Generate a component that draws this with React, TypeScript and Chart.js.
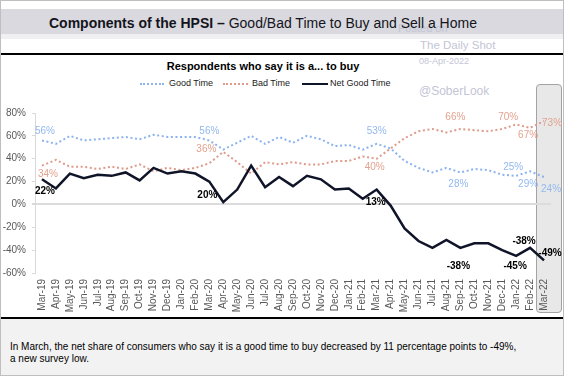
import { useEffect, useRef } from 'react';
import { Chart, registerables } from 'chart.js';

Chart.register(...registerables);

const months = [
  'Mar-19', 'Apr-19', 'May-19', 'Jun-19', 'Jul-19', 'Aug-19', 'Sep-19', 'Oct-19', 'Nov-19', 'Dec-19',
  'Jan-20', 'Feb-20', 'Mar-20', 'Apr-20', 'May-20', 'Jun-20', 'Jul-20', 'Aug-20', 'Sep-20', 'Oct-20',
  'Nov-20', 'Dec-20', 'Jan-21', 'Feb-21', 'Mar-21', 'Apr-21', 'May-21', 'Jun-21', 'Jul-21', 'Aug-21',
  'Sep-21', 'Oct-21', 'Nov-21', 'Dec-21', 'Jan-22', 'Feb-22', 'Mar-22',
];

const goodTime = [
  56, 53, 60, 56, 57, 58, 59, 57, 61, 59, 59, 59, 56,
  48, 54, 60, 53, 59, 54, 60, 57, 51, 52, 48, 53,
  49, 38, 32, 28, 32, 28, 31, 30, 26, 25, 29, 24,
];

const badTime = [
  34, 39, 33, 33, 31, 33, 31, 35, 29, 32, 30, 32, 36,
  46, 37, 27, 37, 35, 37, 35, 35, 38, 38, 42, 40,
  49, 58, 64, 66, 63, 66, 65, 64, 66, 70, 67, 73,
];

const netGoodTime = [
  22, 14, 27, 23, 26, 25, 28, 21, 32, 27, 29, 27, 20,
  2, 13, 34, 15, 24, 16, 25, 22, 13, 14, 5, 13,
  -1, -21, -32, -38, -31, -38, -34, -34, -40, -45, -38, -49,
];

const yMin = -60;
const yMax = 80;
const yStep = 20;

// indices of labelled points
const labelledIdx = [0, 12, 24, 30, 34, 35, 36];

// label placement (dx, dy) relative to point, per series, same order as labelledIdx
const goodOffsets = [[3, -9], [0, -9], [0, -13], [-2, 12], [-3, -9], [-2, 13], [7, 12]];
const badOffsets = [[6, 9], [-3, -14], [-2, 9], [-5, -12], [-8, -7], [-2, 7], [8, 2]];
const netOffsets = [[3, 12], [-2, 14], [-1, 13], [-2, 18], [-1, 10], [-6, -7], [6, -7]];

const FONT = '"Liberation Sans", Arial, Helvetica, sans-serif';
const BLUE = '#8cb3f0';
const BLUE_TXT = '#93b8f0';
const RED = '#df9a8a';
const RED_TXT = '#e2a38f';
const NAVY = '#0f1428';

const labelPlugin = {
  id: 'pointLabels',
  afterDatasetsDraw(chart: any) {
    const ctx = chart.ctx;
    const specs = [
      { ds: 0, offs: goodOffsets, color: BLUE_TXT, bold: false },
      { ds: 1, offs: badOffsets, color: RED_TXT, bold: false },
      { ds: 2, offs: netOffsets, color: '#000', bold: true },
    ];
    ctx.save();
    ctx.textAlign = 'center';
    ctx.textBaseline = 'middle';
    specs.forEach((s) => {
      const meta = chart.getDatasetMeta(s.ds);
      const data = chart.data.datasets[s.ds].data;
      ctx.font = (s.bold ? 'bold ' : '') + '10px ' + FONT;
      ctx.fillStyle = s.color;
      labelledIdx.forEach((idx, k) => {
        const el = meta.data[idx];
        if (!el) return;
        ctx.fillText(data[idx] + '%', el.x + s.offs[k][0], el.y + s.offs[k][1]);
      });
    });
    ctx.restore();
  },
};

function baselineTop(baseline: number, fs: number) {
  return baseline - 0.8465 * fs;
}

export default function App() {
  const ref = useRef<HTMLCanvasElement>(null);

  useEffect(() => {
    document.body.style.margin = '0';
    const chart = new Chart(ref.current as HTMLCanvasElement, {
      type: 'line',
      data: {
        labels: months,
        datasets: [
          {
            label: 'Good Time',
            data: goodTime,
            borderColor: BLUE,
            borderWidth: 2,
            borderDash: [2, 2.6],
            pointRadius: 0,
            fill: false,
            tension: 0,
            order: 1,
          },
          {
            label: 'Bad Time',
            data: badTime,
            borderColor: RED,
            borderWidth: 2,
            borderDash: [2, 2.6],
            pointRadius: 0,
            fill: false,
            tension: 0,
            order: 2,
          },
          {
            label: 'Net Good Time',
            data: netGoodTime,
            borderColor: NAVY,
            borderWidth: 2.5,
            pointRadius: 0,
            fill: false,
            tension: 0,
            order: 0,
          },
        ],
      },
      options: {
        responsive: false,
        animation: false,
        devicePixelRatio: 1,
        layout: { padding: { top: 7, right: 14, left: 0, bottom: 0 } },
        plugins: {
          legend: { display: false },
          title: { display: false },
          tooltip: { enabled: false },
        },
        scales: {
          x: {
            type: 'category',
            offset: true,
            grid: { display: false, drawTicks: false },
            border: { display: false },
            ticks: {
              autoSkip: false,
              minRotation: 90,
              maxRotation: 90,
              padding: 6,
              color: '#595959',
              font: { family: FONT, size: 10 },
            },
            afterFit: (scale: any) => {
              scale.height = 45;
            },
          },
          y: {
            min: yMin,
            max: yMax,
            ticks: {
              stepSize: yStep,
              padding: 6,
              color: '#595959',
              font: { family: FONT, size: 10 },
              callback: (v: any) => v + '%',
            },
            grid: {
              color: (c: any) => (c.tick && c.tick.value === 0 ? '#dcdcdc' : 'rgba(0,0,0,0)'),
              lineWidth: (c: any) => (c.tick && c.tick.value === 0 ? 2 : 1),
              tickColor: '#d9d9d9',
              tickLength: 3,
              drawTicks: true,
            },
            border: { display: true, color: '#d9d9d9', width: 1 },
            afterFit: (scale: any) => {
              scale.width = 34;
            },
          },
        },
      },
      plugins: [labelPlugin],
    } as any);
    return () => chart.destroy();
  }, []);

  const abs = (o: any) => ({ position: 'absolute' as const, whiteSpace: 'nowrap' as const, ...o });

  return (
    <div
      style={{
        position: 'fixed',
        left: 0,
        top: 0,
        width: 564,
        height: 376,
        boxSizing: 'border-box',
        border: '1px solid #bfbfbf',
        background: '#fff',
        overflow: 'hidden',
        fontFamily: FONT,
      }}
    >
      {/* title band */}
      <div style={abs({ left: 0, right: 0, top: 8, height: 25, background: '#d9d9df' })} />
      <div style={abs({ left: 0, right: 0, top: 33, height: 5, background: '#f0f0f2' })} />
      {/* watermark */}
      <div style={abs({ left: 397, top: baselineTop(31.5, 11), fontSize: 11, lineHeight: '11px', color: '#c3c5d6' })}>Posted on</div>
      <div style={abs({ left: 419, top: baselineTop(48.3, 11.5), fontSize: 11.5, lineHeight: '11.5px', color: '#c3c5d6' })}>The Daily Shot</div>
      <div style={abs({ left: 418, top: baselineTop(64, 9), fontSize: 9, lineHeight: '9px', color: '#c3c5d6' })}>08-Apr-2022</div>
      <div style={abs({ left: 418, top: baselineTop(94, 12), fontSize: 12, lineHeight: '12px', color: '#c3c5d6' })}>@SoberLook</div>
      <div style={abs({ left: 48, top: baselineTop(27.3, 14), fontSize: 14, lineHeight: '14px', color: '#141420' })}>
        <b>Components of the HPSI –</b> Good/Bad Time to Buy and Sell a Home
      </div>
      {/* separator */}
      <div style={abs({ left: 0, right: 0, top: 52, height: 2, background: '#000' })} />
      {/* subtitle */}
      <div style={abs({ left: 0, width: 524, textAlign: 'center', top: baselineTop(69.3, 11), fontSize: 11, lineHeight: '11px', fontWeight: 'bold', color: '#000' })}>
        Respondents who say it is a... to buy
      </div>
      {/* legend */}
      <div style={abs({ left: 139, top: 82, width: 24, height: 0, borderTop: '2px dotted ' + BLUE })} />
      <div style={abs({ left: 168, top: baselineTop(86, 9), fontSize: 9, lineHeight: '9px', color: '#1a1a1a' })}>Good Time</div>
      <div style={abs({ left: 222, top: 82, width: 25, height: 0, borderTop: '2px dotted ' + RED })} />
      <div style={abs({ left: 251, top: baselineTop(86, 9), fontSize: 9, lineHeight: '9px', color: '#1a1a1a' })}>Bad Time</div>
      <div style={abs({ left: 301, top: 81.5, width: 26, height: 2.5, background: NAVY })} />
      <div style={abs({ left: 329, top: baselineTop(86, 9), fontSize: 9, lineHeight: '9px', color: '#1a1a1a' })}>Net Good Time</div>
      {/* highlight box for latest month */}
      <div
        style={abs({
          left: 535,
          top: 83,
          width: 26,
          height: 229,
          boxSizing: 'border-box',
          background: '#e8e8e8',
          border: '1.5px solid #a3a3a3',
          borderRadius: 4,
        })}
      />
      {/* chart */}
      <canvas ref={ref} width={564} height={217} style={{ position: 'absolute', left: 0, top: 100, width: 564, height: 217 }} />
      {/* footer */}
      <div style={abs({ left: 0, right: 0, top: 316, height: 2, background: '#000' })} />
      <div style={abs({ left: 0, right: 0, top: 318, bottom: 0, background: '#f2f2f2' })} />
      <div style={abs({ left: 9, top: 339.8, fontSize: 10, lineHeight: '12px', color: '#000' })}>
        In March, the net share of consumers who say it is a good time to buy decreased by 11 percentage points to -49%,
        <br />
        a new survey low.
      </div>
    </div>
  );
}
